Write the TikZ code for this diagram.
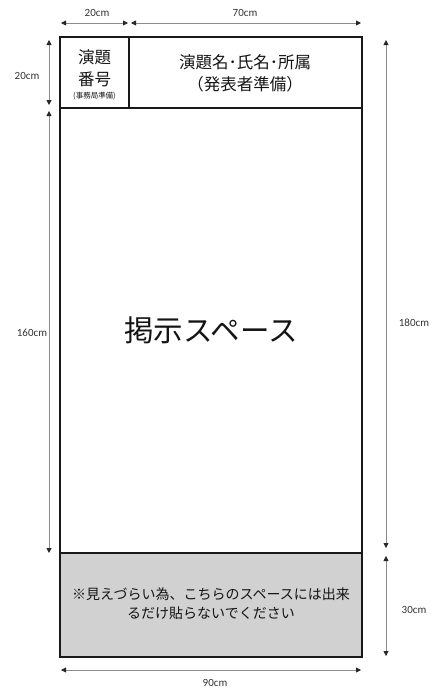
\documentclass[tikz,border=0pt]{standalone}
\usepackage{fontspec}
\setmainfont{Carlito}
\newfontfamily\jp{Noto Sans CJK JP}
\usetikzlibrary{arrows.meta}
\begin{document}
\begin{tikzpicture}[x=1pt,y=-1pt,
  box/.style={draw=black!90,line width=1.6pt},
  dim/.style={draw=black!45,line width=0.8pt,{Triangle[length=5pt,width=5pt,fill=black!85,color=black!85]}-{Triangle[length=5pt,width=5pt,fill=black!85,color=black!85]}},
  lab/.style={font=\fontsize{11}{12}\selectfont,text=black!80,inner sep=0pt},
  jt/.style={font=\jp\fontsize{16.5}{22}\selectfont,text=black!92,align=center,inner sep=0pt}]
\useasboundingbox (0,0) rectangle (436,689);
% boxes
\fill[black!18] (60,553) rectangle (362,657);
\draw[box] (60,37) rectangle (362,657);
\draw[box] (60,108) -- (362,108);
\draw[box] (60,553) -- (362,553);
\draw[box] (129,37) -- (129,108);
% coordinates for dimension lines
\coordinate (t1) at (61,23); \coordinate (t2) at (128,23);
\coordinate (t3) at (131,23); \coordinate (t4) at (361,23);
\coordinate (l1) at (49,40); \coordinate (l2) at (49,105);
\coordinate (l3) at (49,111); \coordinate (l4) at (49,553);
\coordinate (r1) at (386,40); \coordinate (r2) at (386,548);
\coordinate (r3) at (386,556); \coordinate (r4) at (386,656);
\coordinate (b1) at (61,670); \coordinate (b2) at (361,670);
\draw[dim] (t1) -- (t2);
\draw[dim] (t3) -- (t4);
\draw[dim] (l1) -- (l2);
\draw[dim] (l3) -- (l4);
\draw[dim] (r1) -- (r2);
\draw[dim] (r3) -- (r4);
\draw[dim] (b1) -- (b2);
% dimension labels
\node[lab] (d20a) at (97,13) {20cm};
\node[lab] (d70) at (245,13) {70cm};
\node[lab] (d20b) at (27,76) {20cm};
\node[lab] (d160) at (32,333) {160cm};
\node[lab] (d180) at (414,323) {180cm};
\node[lab] (d30) at (414,610) {30cm};
\node[lab] (d90) at (215,682.5) {90cm};
% texts
\node[jt] (num) at (94.5,68.5) {演題\\番号};
\node[jt,font=\jp\fontsize{7.5}{9}\selectfont] (jim) at (94.5,96) {(事務局準備)};
\node[jt] (title) at (245,73.5) {演題名･氏名･所属\\（発表者準備）};
\node[jt,font=\jp\fontsize{29.5}{32}\selectfont] (main) at (211,330) {掲示スペース};
\node[jt,font=\jp\fontsize{14}{19}\selectfont] (note) at (211,604) {※見えづらい為、こちらのスペースには出来\\るだけ貼らないでください};
\end{tikzpicture}
\end{document}
